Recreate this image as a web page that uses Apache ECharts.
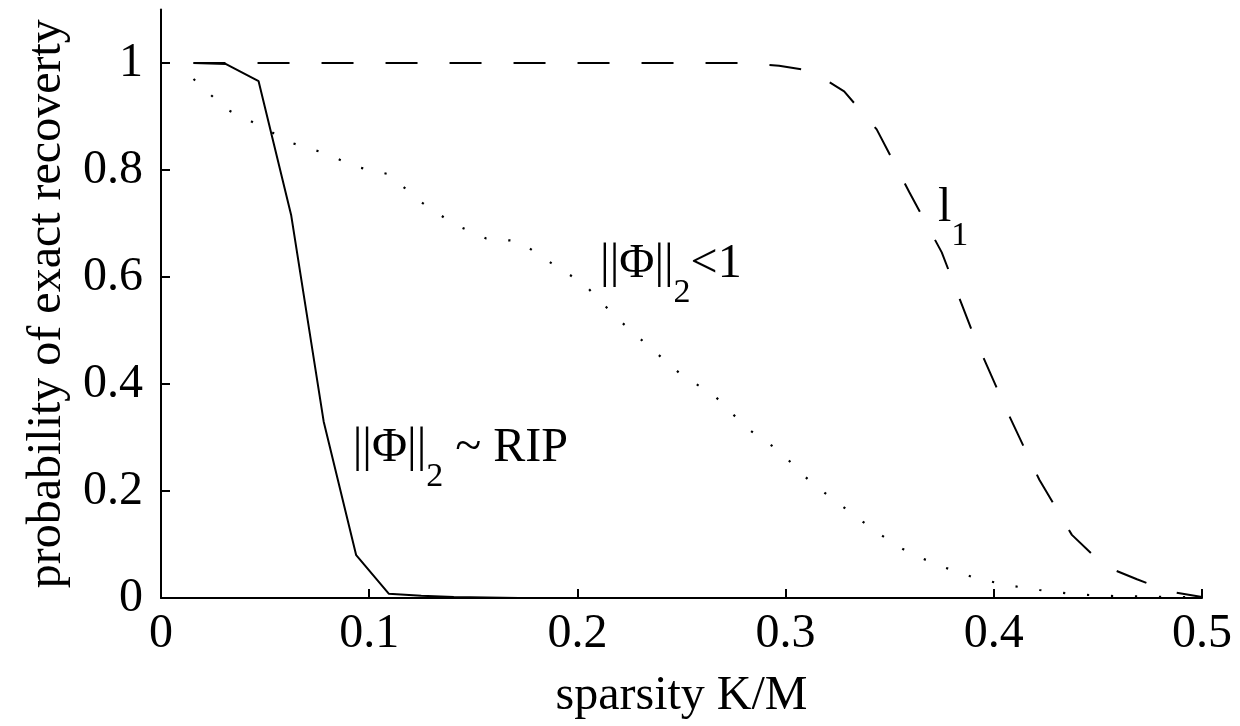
<!DOCTYPE html>
<html>
<head>
<meta charset="utf-8">
<script src="https://cdn.jsdelivr.net/npm/echarts@6/dist/echarts.min.js"></script>
<style>
html,body{margin:0;padding:0;background:#fff;}
#chart{width:1240px;height:726px;}
</style>
</head>
<body>
<div id="chart"></div>
<script>
// sparsity K/M sample points
const sparsity = [0.015625, 0.03125, 0.046875, 0.0625, 0.078125, 0.09375, 0.109375, 0.125,
  0.140625, 0.15625, 0.171875, 0.1875, 0.203125, 0.21875, 0.234375, 0.25,
  0.265625, 0.28125, 0.296875, 0.3125, 0.328125, 0.34375, 0.359375, 0.375,
  0.390625, 0.40625, 0.421875, 0.4375, 0.453125, 0.46875, 0.484375, 0.5];

// ||Phi||_2 ~ RIP (solid)
const ripValues = [1.0, 0.998, 0.966, 0.716, 0.330, 0.080, 0.008, 0.004,
  0.002, 0.001, 0, 0, 0, 0, 0, 0,
  0, 0, 0, 0, 0, 0, 0, 0,
  0, 0, 0, 0, 0, 0, 0, 0];

// ||Phi||_2 < 1 (dotted)
const normValues = [0.970, 0.914, 0.884, 0.851, 0.832, 0.806, 0.792, 0.740,
  0.699, 0.672, 0.667, 0.626, 0.587, 0.524, 0.470, 0.417,
  0.379, 0.318, 0.275, 0.215, 0.169, 0.123, 0.084, 0.059,
  0.038, 0.024, 0.015, 0.0075, 0.004, 0.003, 0.002, 0.001];

// l1 (dashed)
const l1Values = [1.0, 1.0, 1.0, 1.0, 1.0, 1.0, 1.0, 1.0,
  1.0, 1.0, 1.0, 1.0, 1.0, 1.0, 1.0, 1.0,
  1.0, 1.0, 0.995, 0.985, 0.947, 0.876, 0.759, 0.646,
  0.488, 0.350, 0.221, 0.118, 0.060, 0.035, 0.012, 0.002];

const xTicks = [0, 0.1, 0.2, 0.3, 0.4, 0.5];
const yTicks = [0, 0.2, 0.4, 0.6, 0.8, 1];

// annotations: [x, y, main text, subscript, rest]
const annotations = [
  [0.0921, 0.280, '||Φ||', '2', ' ~ RIP'],
  [0.2109, 0.624, '||Φ||', '2', '<1'],
  [0.3732, 0.729, 'l', '1', '']
];

const FONT = 'Liberation Serif';

function pairs(xs, ys) { return xs.map((x, i) => [x, ys[i]]); }

const chart = echarts.init(document.getElementById('chart'), null, {renderer: 'canvas'});
chart.setOption({
  animation: false,
  backgroundColor: '#ffffff',
  textStyle: {fontFamily: FONT, color: '#000'},
  grid: {left: 161, right: 38, top: 9.5, bottom: 128},
  xAxis: {
    type: 'value', min: 0, max: 0.5, interval: 0.1,
    name: 'sparsity K/M', nameLocation: 'middle', nameGap: 74,
    nameTextStyle: {fontFamily: FONT, fontSize: 48, color: '#000'},
    axisLine: {lineStyle: {color: '#000', width: 2}},
    axisTick: {inside: true, length: 9, lineStyle: {color: '#000', width: 2}, customValues: xTicks},
    axisLabel: {fontFamily: FONT, fontSize: 48, color: '#000', margin: 12, customValues: xTicks},
    splitLine: {show: false}
  },
  yAxis: {
    type: 'value', min: 0, max: 1.1,
    name: 'probability of exact recoverty', nameLocation: 'middle', nameGap: 90,
    nameTextStyle: {fontFamily: FONT, fontSize: 48, color: '#000'},
    axisLine: {lineStyle: {color: '#000', width: 2}},
    axisTick: {inside: true, length: 9, lineStyle: {color: '#000', width: 2}, customValues: yTicks},
    axisLabel: {fontFamily: FONT, fontSize: 48, color: '#000', margin: 18, customValues: yTicks},
    splitLine: {show: false}
  },
  series: [
    {
      type: 'line', data: pairs(sparsity, ripValues), showSymbol: false, silent: true,
      lineStyle: {color: '#000', width: 2, type: 'solid'}
    },
    {
      type: 'line', data: pairs(sparsity, normValues), showSymbol: false, silent: true,
      lineStyle: {color: '#000', width: 2.2, type: [2.2, 21.8]}
    },
    {
      type: 'line', data: pairs(sparsity, l1Values), showSymbol: false, silent: true,
      lineStyle: {color: '#000', width: 2, type: [32, 32]}
    },
    {
      type: 'scatter', symbolSize: 0, silent: true,
      itemStyle: {opacity: 1, color: '#000'},
      data: annotations.map(a => ({value: [a[0], a[1]], main: a[2], sub: a[3], rest: a[4]})),
      label: {
        show: true, position: 'right', distance: 0, color: '#000', fontFamily: FONT, fontSize: 48,
        formatter: p => '{m|' + p.data.main + '}{s|' + p.data.sub + '}' + (p.data.rest ? '{m|' + p.data.rest + '}' : ''),
        rich: {
          m: {fontFamily: FONT, fontSize: 48, color: '#000', lineHeight: 56},
          s: {fontFamily: FONT, fontSize: 34, color: '#000', lineHeight: 56, padding: [57, 0, 0, 0]}
        }
      }
    }
  ]
});
</script>
</body>
</html>
